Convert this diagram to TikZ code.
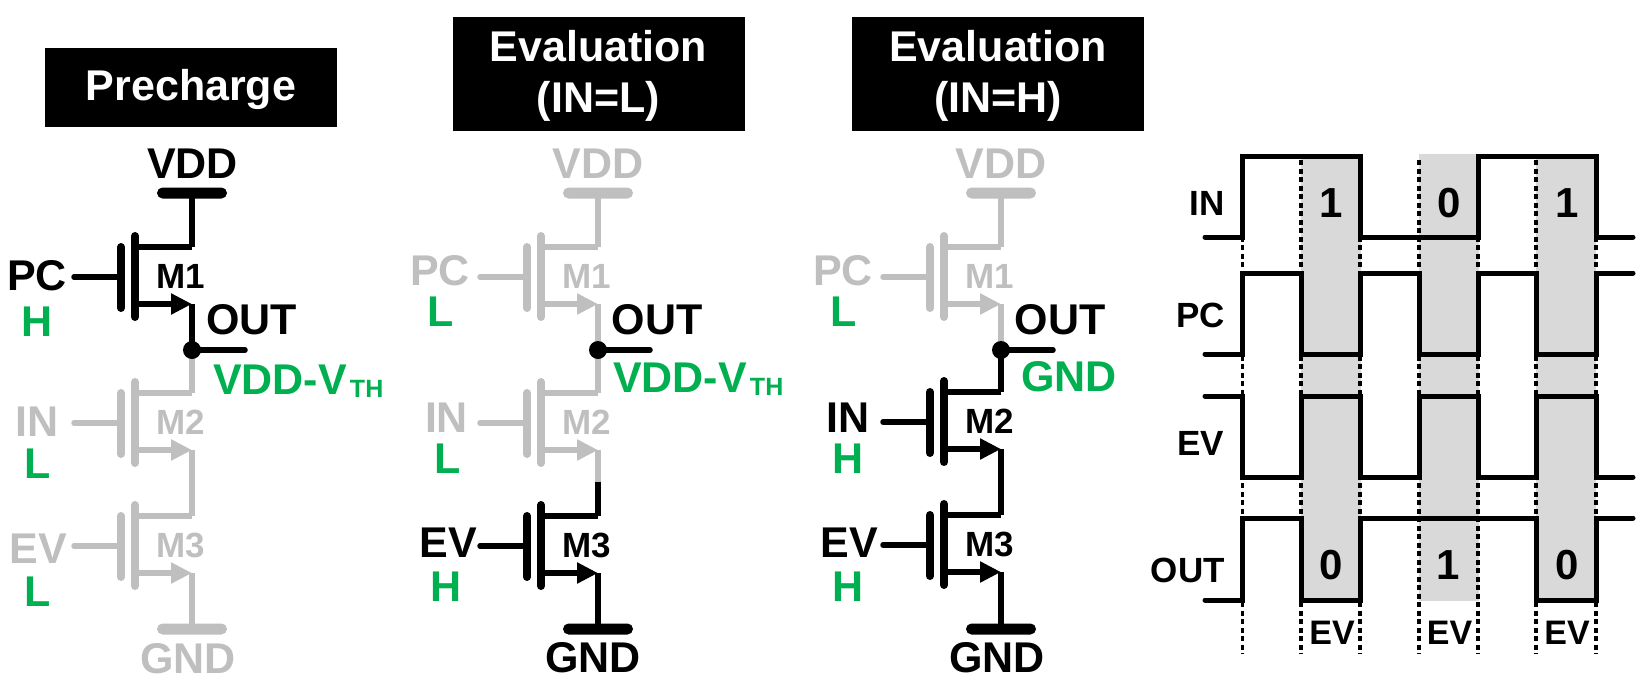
\documentclass[tikz,border=0pt]{standalone}
\usepackage{fontspec}
\setmainfont{Liberation Sans}
\usetikzlibrary{arrows.meta}
\definecolor{offgrey}{HTML}{BFBFBF}
\definecolor{levelgreen}{HTML}{00B050}
\definecolor{evshade}{HTML}{D9D9D9}
\tikzset{
  lbl/.style={font=\fontsize{43}{43}\bfseries\selectfont,inner sep=0pt,anchor=base},
  lvl/.style={lbl,text=levelgreen},
  devlbl/.style={font=\fontsize{35}{35}\bfseries\selectfont,inner sep=0pt,anchor=base west},
  wavelbl/.style={font=\fontsize{35}{35}\bfseries\selectfont,inner sep=0pt,anchor=base east},
  digit/.style={font=\fontsize{42}{42}\bfseries\selectfont,inner sep=0pt,anchor=base},
  evlbl/.style={font=\fontsize{34}{34}\bfseries\selectfont,inner sep=0pt,anchor=base},
  titlebox/.style={fill=black,inner sep=0pt},
  titletext/.style={text=white,align=center,inner sep=0pt,yshift=-2pt,font=\fontsize{43}{51}\bfseries\selectfont},
  railbar/.style={minimum width=70pt,minimum height=11pt,inner sep=0pt,rounded corners=5.5pt,fill=#1},
  dotnode/.style={circle,fill=black,minimum size=18pt,inner sep=0pt},
  wire/.style={line width=5.5pt},
  pad/.style={line width=8pt,line cap=round},
  lead/.style={line width=5.5pt,line cap=round},
  wave/.style={line width=5pt,line cap=round,line join=miter},
  edgeline/.style={line width=3.2pt,dash pattern=on 5pt off 3.5pt}
}
\newcommand{\vth}{VDD-V\kern3pt{\raisebox{-3pt}{\fontsize{25}{25}\selectfont TH}}}
% one nmos: name, x and y of the drain, colour, label
\newcommand{\nmos}[5]{
  \begin{scope}[shift={(#2,#3)}]
    \coordinate (#1d) at (0,0);
    \coordinate (#1s) at (0,57);
    \coordinate (#1k) at (-57,0);
    \coordinate (#1e) at (-57,57);
    \coordinate (#1p) at (-57,-11);
    \coordinate (#1q) at (-57,70);
    \coordinate (#1u) at (-71,0);
    \coordinate (#1v) at (-71,61);
    \coordinate (#1g) at (-71,30);
    \coordinate (#1i) at (-118,30);
    \draw[pad,#4] (#1p) -- (#1q);
    \draw[pad,#4] (#1u) -- (#1v);
    \draw[lead,#4] (#1i) -- (#1g);
    \draw[wire,#4] (#1k) -- (#1d);
    \draw[wire,#4,-{Triangle[length=21pt,width=20pt]}] (#1e) -- (#1s);
    \node[devlbl,text=#4] (#1lbl) at (-36,41) {#5};
  \end{scope}
}
\begin{document}
\begin{tikzpicture}[x=1pt,y=-1pt]
  \useasboundingbox (0,0) rectangle (1649,689);
  % titles
  \node[titlebox,minimum width=292pt,minimum height=79pt] (titleA) at (191,87.5) {};
  \node[titletext] (titleAt) at (titleA) {Precharge};
  \node[titlebox,minimum width=292pt,minimum height=114pt] (titleB) at (598.5,74) {};
  \node[titletext] (titleBt) at (titleB) {Evaluation\\(IN=L)};
  \node[titlebox,minimum width=292pt,minimum height=114pt] (titleC) at (998,74) {};
  \node[titletext] (titleCt) at (titleC) {Evaluation\\(IN=H)};
  % precharge
  \node[railbar=black] (Avdd) at (192,193) {};
  \node[lbl] (Avddt) at (192.5,178) {VDD};
  \node[railbar=offgrey] (Agnd) at (192,629) {};
  \node[lbl,text=offgrey] (Agndt) at (188,673) {GND};
  \nmos{Aa}{192}{247}{black}{M1}
  \nmos{Ab}{192}{393}{offgrey}{M2}
  \nmos{Ac}{192}{516}{offgrey}{M3}
  \coordinate (Aj) at (192,350);
  \coordinate (Astub) at (245,350);
  \draw[wire,offgrey] (Aj) -- (Abd);
  \draw[wire,offgrey] (Abs) -- (Acd);
  \draw[wire,offgrey] (Acs) -- (Agnd.center);
  \draw[wire] (Avdd.center) -- (Aad);
  \draw[wire] (Aas) -- (Aj);
  \draw[lead] (Aj) -- (Astub);
  \node[dotnode] (Aout) at (Aj) {};
  \node[lbl] (Apc) at (37,290) {PC};
  \node[lvl] (Apcl) at (37,336) {H};
  \node[lbl,text=offgrey] (Ain) at (37,436) {IN};
  \node[lvl] (Ainl) at (38,478) {L};
  \node[lbl,text=offgrey] (Aev) at (38,563) {EV};
  \node[lvl] (Aevl) at (38,606) {L};
  \node[lbl] (Aoutt) at (251.5,334) {OUT};
  \node[lvl,anchor=base west] (Aoutl) at (213,394) {\vth};
  % evaluation, IN low
  \node[railbar=offgrey] (Bvdd) at (598,193) {};
  \node[lbl,text=offgrey] (Bvddt) at (598,178) {VDD};
  \node[railbar] (Bgnd) at (598,629) {};
  \node[lbl] (Bgndt) at (593,672) {GND};
  \nmos{Ba}{598}{247}{offgrey}{M1}
  \nmos{Bb}{598}{393}{offgrey}{M2}
  \nmos{Bc}{598}{516}{black}{M3}
  \coordinate (Bhalf) at (598,482);
  \coordinate (Bj) at (598,350);
  \coordinate (Bstub) at (650,350);
  \draw[wire,offgrey] (Bvdd.center) -- (Bad);
  \draw[wire,offgrey] (Bas) -- (Bj);
  \draw[wire,offgrey] (Bj) -- (Bbd);
  \draw[wire,offgrey] (Bbs) -- (Bhalf);
  \draw[wire] (Bhalf) -- (Bcd);
  \draw[wire] (Bcs) -- (Bgnd.center);
  \draw[lead] (Bj) -- (Bstub);
  \node[dotnode] (Bout) at (Bj) {};
  \node[lbl,text=offgrey] (Bpc) at (440,285) {PC};
  \node[lvl] (Bpcl) at (440.5,326) {L};
  \node[lbl,text=offgrey] (Bin) at (446.5,432) {IN};
  \node[lvl] (Binl) at (447.5,473) {L};
  \node[lbl] (Bev) at (448,557) {EV};
  \node[lvl] (Bevl) at (446.5,601) {H};
  \node[lbl] (Boutt) at (657,334) {OUT};
  \node[lvl,anchor=base west] (Boutl) at (613,392) {\vth};
  % evaluation, IN high
  \node[railbar=offgrey] (Cvdd) at (1001,193) {};
  \node[lbl,text=offgrey] (Cvddt) at (1001,178) {VDD};
  \node[railbar] (Cgnd) at (1001,629) {};
  \node[lbl] (Cgndt) at (997,672) {GND};
  \nmos{Ca}{1001}{247}{offgrey}{M1}
  \nmos{Cb}{1001}{392}{black}{M2}
  \nmos{Cc}{1001}{515}{black}{M3}
  \coordinate (Cj) at (1001,350);
  \coordinate (Cstub) at (1053,350);
  \draw[wire,offgrey] (Cvdd.center) -- (Cad);
  \draw[wire,offgrey] (Cas) -- (Cj);
  \draw[wire] (Cj) -- (Cbd);
  \draw[wire] (Cbs) -- (Ccd);
  \draw[wire] (Ccs) -- (Cgnd.center);
  \draw[lead] (Cj) -- (Cstub);
  \node[dotnode] (Cout) at (Cj) {};
  \node[lbl,text=offgrey] (Cpc) at (843,285) {PC};
  \node[lvl] (Cpcl) at (843.5,326) {L};
  \node[lbl] (Cin) at (848,432) {IN};
  \node[lvl] (Cinl) at (848,473) {H};
  \node[lbl] (Cev) at (849,557) {EV};
  \node[lvl] (Cevl) at (848,601) {H};
  \node[lbl] (Coutt) at (1060,334) {OUT};
  \node[lvl,anchor=base] (Coutl) at (1069,391) {GND};
  % timing
  \foreach \x in {1301,1419,1536}
    \fill[evshade] (\x,154) rectangle (\x+59.5,601);
  \foreach \x in {1242.5,1301,1360,1419,1478,1536,1596}
    \draw[edgeline] (\x,160) -- (\x,654);
  \draw[wave] (1205,237) -- (1242.5,237) -- (1242.5,156) -- (1360,156) -- (1360,237) -- (1478,237) -- (1478,156) -- (1596,156) -- (1596,237) -- (1633,237);
  \draw[wave] (1205,354) -- (1242.5,354) -- (1242.5,273) -- (1301,273) -- (1301,354) -- (1360,354) -- (1360,273) -- (1419,273) -- (1419,354) -- (1478,354) -- (1478,273) -- (1536,273) -- (1536,354) -- (1596,354) -- (1596,273) -- (1633,273);
  \draw[wave] (1205,396) -- (1242.5,396) -- (1242.5,477) -- (1301,477) -- (1301,396) -- (1360,396) -- (1360,477) -- (1419,477) -- (1419,396) -- (1478,396) -- (1478,477) -- (1536,477) -- (1536,396) -- (1596,396) -- (1596,477) -- (1633,477);
  \draw[wave] (1205,600) -- (1242.5,600) -- (1242.5,518) -- (1301,518) -- (1301,600) -- (1360,600) -- (1360,518) -- (1536,518) -- (1536,600) -- (1596,600) -- (1596,518) -- (1633,518);
  \node[wavelbl] (Tin) at (1225,215) {IN};
  \node[wavelbl] (Tpc) at (1225,327) {PC};
  \node[wavelbl] (Tev) at (1224,455) {EV};
  \node[wavelbl] (Tout) at (1225,582) {OUT};
  \node[digit] (Tia) at (1331,217) {1};
  \node[digit] (Tib) at (1449,217) {0};
  \node[digit] (Tic) at (1567,217) {1};
  \node[digit] (Toa) at (1331.5,579) {0};
  \node[digit] (Tob) at (1448,579) {1};
  \node[digit] (Toc) at (1567,579) {0};
  \node[evlbl] (Tea) at (1332,644) {EV};
  \node[evlbl] (Teb) at (1449.5,644) {EV};
  \node[evlbl] (Tec) at (1567,644) {EV};
\end{tikzpicture}
\end{document}
